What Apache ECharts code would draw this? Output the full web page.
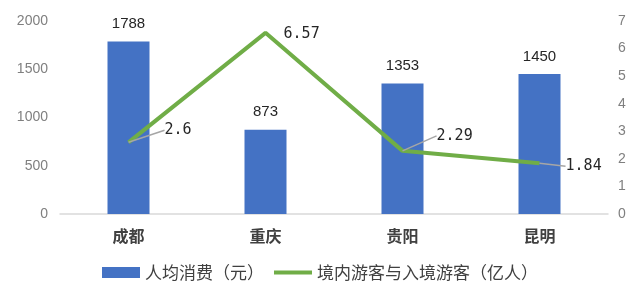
<!DOCTYPE html>
<html>
<head>
<meta charset="utf-8">
<script src="https://cdn.jsdelivr.net/npm/echarts@6/dist/echarts.min.js"></script>
<style>
  html, body { margin: 0; padding: 0; background: #fff; }
  #chart { width: 640px; height: 307px; }
</style>
</head>
<body>
<div id="chart"></div>
<script>
// Cities and their tourism figures
const cities = ['成都', '重庆', '贵阳', '昆明'];
const spendPerVisitor = [1788, 873, 1353, 1450];     // 人均消费（元）
const visitors = [2.6, 6.57, 2.29, 1.84];            // 境内游客与入境游客（亿人）
const leftTicks = [0, 500, 1000, 1500, 2000];
const rightTicks = [0, 1, 2, 3, 4, 5, 6, 7];

// Offsets for the line labels (dx, dy) relative to their default spot,
// and whether a guide line connects each label to its point
const lineLabelShift = [[30, -12], [12, 1], [28, -15], [20, 3]];
const lineLabelGuide = [true, false, true, true];

const visitorData = visitors.map((v, i) => ({
  value: v,
  labelLine: { show: lineLabelGuide[i] }
}));

const chart = echarts.init(document.getElementById('chart'));
chart.setOption({
  animation: false,
  grid: { left: 60, right: 32, top: 21, bottom: 93 },
  legend: {
    bottom: 21,
    left: 'center',
    itemGap: 10,
    itemWidth: 38,
    itemHeight: 11,
    textStyle: { fontSize: 17, color: '#404040', fontFamily: 'Noto Sans CJK SC' },
    data: [
      { name: '人均消费（元）', icon: 'rect' },
      { name: '境内游客与入境游客（亿人）', icon: 'path://M0,0 L38,0 L38,4 L0,4 Z' }
    ]
  },
  xAxis: {
    type: 'category',
    data: cities,
    axisTick: { show: false },
    axisLine: { lineStyle: { color: '#d9d9d9', width: 1.5 } },
    axisLabel: { fontSize: 16, fontWeight: 'bold', color: '#404040', margin: 14, fontFamily: 'Noto Sans CJK SC' }
  },
  yAxis: [
    {
      type: 'value', min: leftTicks[0], max: leftTicks[leftTicks.length - 1], interval: 500,
      splitLine: { show: false },
      axisLine: { show: false },
      axisLabel: { fontSize: 14, color: '#7f7f7f', margin: 12, formatter: v => String(v) }
    },
    {
      type: 'value', min: rightTicks[0], max: rightTicks[rightTicks.length - 1], interval: 1,
      splitLine: { show: false },
      axisLine: { show: false },
      axisLabel: { fontSize: 14, color: '#7f7f7f', margin: 10 }
    }
  ],
  series: [
    {
      name: '人均消费（元）',
      type: 'bar',
      data: spendPerVisitor,
      barWidth: 42,
      itemStyle: { color: '#4472C4' },
      label: { show: true, position: 'top', distance: 10, fontSize: 15, color: '#262626' }
    },
    {
      name: '境内游客与入境游客（亿人）',
      type: 'line',
      yAxisIndex: 1,
      data: visitorData,
      symbol: 'circle',
      symbolSize: 0.1,
      showSymbol: true,
      lineStyle: { color: '#70AD47', width: 4 },
      itemStyle: { color: '#70AD47' },
      label: {
        show: true, position: 'right', distance: 6,
        fontSize: 15, color: '#262626', fontFamily: 'DejaVu Sans Mono'
      },
      labelLine: { show: true, lineStyle: { color: '#a6a6a6', width: 1.5 } },
      labelLayout: function (p) {
        const s = lineLabelShift[p.dataIndex];
        return { dx: s[0], dy: s[1] };
      },
      z: 3
    }
  ]
});
</script>
</body>
</html>
